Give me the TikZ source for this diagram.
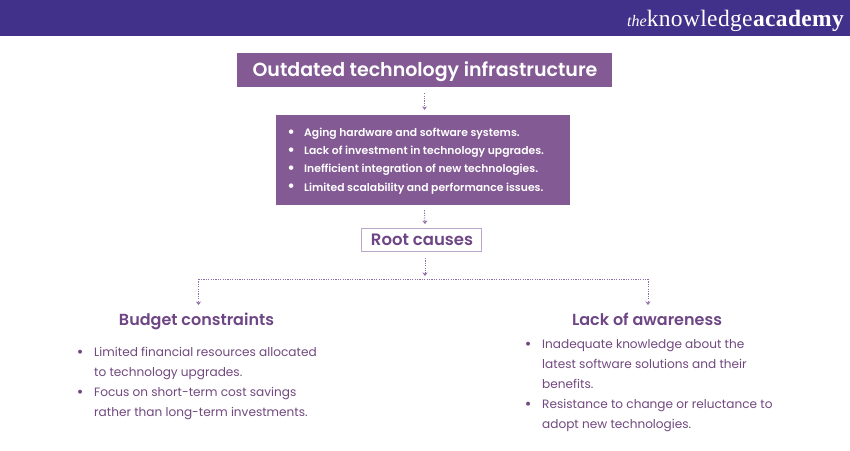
\documentclass[tikz,border=0pt]{standalone}
\usepackage{fontspec}
\setmainfont{Poppins}[BoldFont=Poppins SemiBold]
\newfontfamily\logof{Liberation Serif}
\usetikzlibrary{arrows.meta,calc}
\definecolor{band}{HTML}{42318A}
\definecolor{plum}{HTML}{835A94}
\definecolor{plumtext}{HTML}{6F4685}
\definecolor{bodytext}{HTML}{71497F}
\definecolor{edge}{HTML}{BBA6C8}
\definecolor{conn}{HTML}{7B5596}
\newcommand{\bul}{\makebox[6pt][c]{\raisebox{-0.8pt}{\fontsize{16}{16}\selectfont\textbullet}}}
\tikzset{
  x=1pt,y=-1pt,
  titlebox/.style={fill=plum,inner sep=0pt,minimum width=375pt,minimum height=34pt},
  listbox/.style={fill=plum,inner sep=0pt,minimum width=294pt,minimum height=90pt},
  rootbox/.style={draw=edge,line width=1pt,fill=white,inner sep=0pt,minimum width=120pt,minimum height=23pt},
  lbl/.style={inner sep=0pt,anchor=base},
  titletext/.style={lbl,text=white,font=\bfseries\fontsize{19}{23}\selectfont},
  listtext/.style={inner sep=0pt,anchor=north west,text=white,align=left,font=\bfseries\fontsize{10.8}{18.2}\selectfont},
  roottext/.style={lbl,text=plumtext,font=\bfseries\fontsize{16.5}{20}\selectfont},
  head/.style={lbl,text=plumtext,font=\bfseries\fontsize{16}{19}\selectfont},
  bodylist/.style={text=bodytext,font=\fontsize{12.1}{20}\selectfont,inner sep=0pt,align=left,anchor=north west},
  dotline/.style={conn!85,line width=0.9pt,dash pattern=on 1.2pt off 1.2pt},
  tip/.style={-{Stealth[length=3.5pt,width=5pt]}},
}
\begin{document}
\begin{tikzpicture}
\useasboundingbox (0,0) rectangle (850,450);
\fill[white] (0,0) rectangle (850,450);
\fill[band] (0,0) rectangle (850,36);
\node[text=white,inner sep=0pt,anchor=base west] (logo) at (627,26.5) {\logof\fontsize{23.5}{24}\selectfont{\itshape\fontsize{16}{17}\selectfont the}\addfontfeature{LetterSpace=1.5}knowledge\textbf{academy}};
\node[titlebox] (title) at (424.5,70) {};
\node[titletext] (titlet) at (425,76) {Outdated technology infrastructure};
\node[listbox] (list) at (423,160) {};
\node[listtext] (listt) at (288,123.5) {\begin{tabular}{@{}l@{\hspace{10pt}}l@{}}\bul & Aging hardware and software systems.\\\bul & Lack of investment in technology upgrades.\\\bul & Inefficient integration of new technologies.\\\bul & Limited scalability and performance issues.\end{tabular}};
\node[rootbox] (root) at (421.5,240) {};
\node[roottext] (roott) at (422,245) {Root causes};
\coordinate (hub) at (425,279);
\coordinate (leftc) at (198.5,279);
\coordinate (rightc) at (648,279);
\node[head] (budget) at (196.5,325) {Budget constraints};
\node[head] (aware) at (647,325) {Lack of awareness};
\node[bodylist] (blist) at (77,342) {\begin{tabular}{@{}l@{\hspace{11pt}}l@{}}\bul & Limited financial resources allocated\\ & to technology upgrades.\\\bul & Focus on short-term cost savings\\ & rather than long-term investments.\end{tabular}};
\node[bodylist] (alist) at (525,334.5) {\begin{tabular}{@{}l@{\hspace{11pt}}l@{}}\bul & Inadequate knowledge about the\\ & latest software solutions and their\\ & benefits.\\\bul & Resistance to change or reluctance to\\ & adopt new technologies.\end{tabular}};
\draw[dotline,tip] ($(title.south)+(0,6)$) -- ($(list.north)+(1.5,-5)$);
\draw[dotline,tip] ($(list.south)+(1.5,5)$) -- ($(root.north)+(3.5,-4)$);
\draw[dotline,tip] ($(root.south)+(3.5,6)$) -- ($(hub)+(0,-3)$);
\draw[dotline] (leftc) -- (rightc);
\draw[dotline,tip] (leftc) -- (leftc |- 0,305);
\draw[dotline,tip] (rightc) -- (rightc |- 0,305);
\end{tikzpicture}
\end{document}
